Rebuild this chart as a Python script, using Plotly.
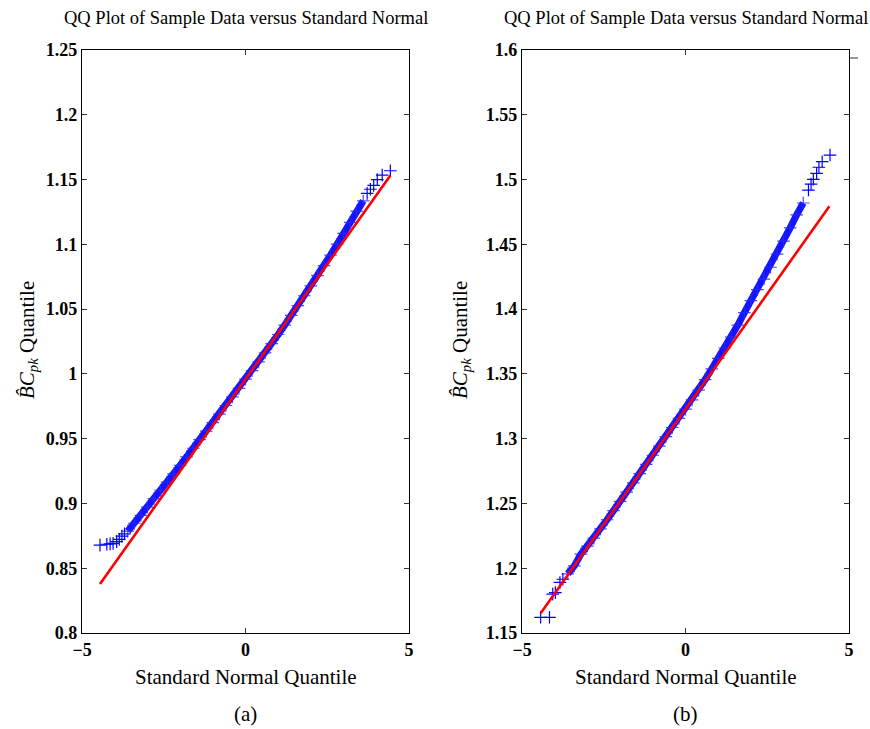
import plotly.graph_objects as go

# ---------------- data ----------------
# (a) dense central part of the QQ plot
a_band_x = [-3.6, -3.4, -3.2, -3.0, -2.8, -2.6, -2.4, -2.2, -2.0, -1.8, -1.6, -1.4, -1.2, -1.0,
            -0.8, -0.6, -0.4, -0.2, 0.0, 0.2, 0.4, 0.6, 0.8, 1.0, 1.2, 1.4, 1.6, 1.8, 2.0, 2.2,
            2.4, 2.6, 2.8, 3.0, 3.2, 3.4, 3.6]
a_band_y = [0.8786, 0.8847, 0.8908, 0.8972, 0.9037, 0.9102, 0.9165, 0.9228, 0.9294, 0.9360,
            0.9426, 0.9492, 0.9558, 0.9624, 0.9690, 0.9756, 0.9822, 0.9888, 0.9959, 1.0025,
            1.0093, 1.0162, 1.0233, 1.0304, 1.0377, 1.0451, 1.0527, 1.0603, 1.0679, 1.0758,
            1.0836, 1.0917, 1.1001, 1.1084, 1.1170, 1.1256, 1.1335]
# (a) sparse tails
a_tail_x = [-4.45, -4.24, -4.14, -4.05, -3.94, -3.86, -3.78, -3.70,
            3.72, 3.82, 3.92, 4.03, 4.18, 4.43]
a_tail_y = [0.8678, 0.8685, 0.8688, 0.8692, 0.8705, 0.8722, 0.8748, 0.8765,
            1.1393, 1.1425, 1.1455, 1.1500, 1.1534, 1.1568]
# (a) reference line end points
a_ref_x = [-4.45, 4.43]
a_ref_y = [0.8379, 1.1532]

# (b) dense central part
b_band_x = a_band_x
b_band_y = [1.1957, 1.2018, 1.2109, 1.2171, 1.2232, 1.2303, 1.2374, 1.2445, 1.2516, 1.2588,
            1.2659, 1.2730, 1.2801, 1.2872, 1.2943, 1.3015, 1.3086, 1.3157, 1.3228, 1.3299,
            1.3375, 1.3456, 1.3538, 1.3619, 1.3700, 1.3784, 1.3877, 1.3973, 1.4065, 1.4151,
            1.4232, 1.4323, 1.4424, 1.4525, 1.4627, 1.4728, 1.4819]
# (b) sparse tails
b_tail_x = [-4.43, -4.16, -4.06, -3.98, -3.84, -3.75,
            3.76, 3.84, 3.91, 4.01, 4.08, 4.18, 4.42]
b_tail_y = [1.1621, 1.1621, 1.1800, 1.1812, 1.1890, 1.1915,
            1.4919, 1.4965, 1.5002, 1.5048, 1.5095, 1.5138, 1.5189]
# (b) reference line end points
b_ref_x = [-4.43, 4.40]
b_ref_y = [1.1652, 1.4794]

# axis ticks
x_ticks = [-5, 0, 5]
x_ticktext = ["\u22125", "0", "5"]
a_yticks = [0.8, 0.85, 0.9, 0.95, 1.0, 1.05, 1.1, 1.15, 1.2, 1.25]
a_ytext = ["0.8", "0.85", "0.9", "0.95", "1", "1.05", "1.1", "1.15", "1.2", "1.25"]
b_yticks = [1.15, 1.2, 1.25, 1.3, 1.35, 1.4, 1.45, 1.5, 1.55, 1.6]
b_ytext = ["1.15", "1.2", "1.25", "1.3", "1.35", "1.4", "1.45", "1.5", "1.55", "1.6"]

title_text = "QQ Plot of Sample Data versus Standard Normal"
xlabel_text = "Standard Normal Quantile"
ylabel_text = "<i>B\u0302C</i><sub><i>pk</i></sub> Quantile"
panel_labels = ["(a)", "(b)"]

# ---------------- figure ----------------
W, H = 870, 729
SERIF = "Liberation Serif"
BLUE = "#0000ff"
fig = go.Figure()

def add_panel(xa, ya, bx, by, tx, ty, rx, ry):
    fig.add_trace(go.Scatter(x=bx, y=by, xaxis=xa, yaxis=ya, mode="lines+markers",
                             line=dict(color="rgba(0,0,255,0.92)", width=7),
                             marker=dict(symbol="cross-thin", size=9,
                                         line=dict(width=1.2, color="rgba(40,40,255,0.85)")),
                             showlegend=False, hoverinfo="skip"))
    fig.add_trace(go.Scatter(x=tx, y=ty, xaxis=xa, yaxis=ya, mode="markers",
                             marker=dict(symbol="cross-thin", size=9,
                                         line=dict(width=1.2, color=BLUE)),
                             showlegend=False, hoverinfo="skip"))
    fig.add_trace(go.Scatter(x=rx, y=ry, xaxis=xa, yaxis=ya, mode="lines",
                             line=dict(color="#ff0000", width=2.6),
                             showlegend=False, hoverinfo="skip"))

add_panel("x", "y", a_band_x, a_band_y, a_tail_x, a_tail_y, a_ref_x, a_ref_y)
add_panel("x2", "y2", b_band_x, b_band_y, b_tail_x, b_tail_y, b_ref_x, b_ref_y)

ytop = 1 - 50 / H
ybot = 1 - 633 / H
axis_common = dict(showgrid=False, zeroline=False, showline=True, linecolor="black",
                   linewidth=1.2, mirror="ticks", ticks="inside", ticklen=5,
                   tickcolor="#333", tickwidth=1, automargin=False,
                   tickfont=dict(family=SERIF, size=18, color="black", weight="bold"))

fig.update_layout(
    width=W, height=H, margin=dict(l=0, r=0, t=0, b=0, autoexpand=False),
    paper_bgcolor="white", plot_bgcolor="white",
    xaxis=dict(domain=[82 / W, 409 / W], range=[-5, 5], tickvals=x_ticks,
               ticktext=x_ticktext, anchor="y", **axis_common),
    yaxis=dict(domain=[ybot, ytop], range=[0.8, 1.25], tickvals=a_yticks,
               ticktext=a_ytext, anchor="x", **axis_common),
    xaxis2=dict(domain=[522 / W, 849 / W], range=[-5, 5], tickvals=x_ticks,
                ticktext=x_ticktext, anchor="y2", **axis_common),
    yaxis2=dict(domain=[ybot, ytop], range=[1.15, 1.6], tickvals=b_yticks,
                ticktext=b_ytext, anchor="x2", **axis_common),
)

ann_font = dict(family=SERIF, size=18.5, color="black")
lab_font = dict(family=SERIF, size=21, color="black")
for cx, lbl, yl_x in [(245.5, panel_labels[0], 28), (685.5, panel_labels[1], 461)]:
    fig.add_annotation(x=cx / W, y=1 - 18 / H, xref="paper", yref="paper", text=title_text,
                       showarrow=False, font=ann_font, xanchor="center", yanchor="middle")
    fig.add_annotation(x=cx / W, y=1 - 677 / H, xref="paper", yref="paper", text=xlabel_text,
                       showarrow=False, font=lab_font, xanchor="center", yanchor="middle")
    fig.add_annotation(x=cx / W, y=1 - 714 / H, xref="paper", yref="paper", text=lbl,
                       showarrow=False, font=lab_font, xanchor="center", yanchor="middle")
    fig.add_annotation(x=yl_x / W, y=1 - 340 / H, xref="paper", yref="paper", text=ylabel_text,
                       showarrow=False, font=lab_font, textangle=-90,
                       xanchor="center", yanchor="middle")

# small stray tick outside the right panel
fig.add_shape(type="line", xref="paper", yref="paper", x0=850 / W, x1=858 / W,
              y0=1 - 58 / H, y1=1 - 58 / H, line=dict(color="#333", width=1))

fig.write_html("out.html")
